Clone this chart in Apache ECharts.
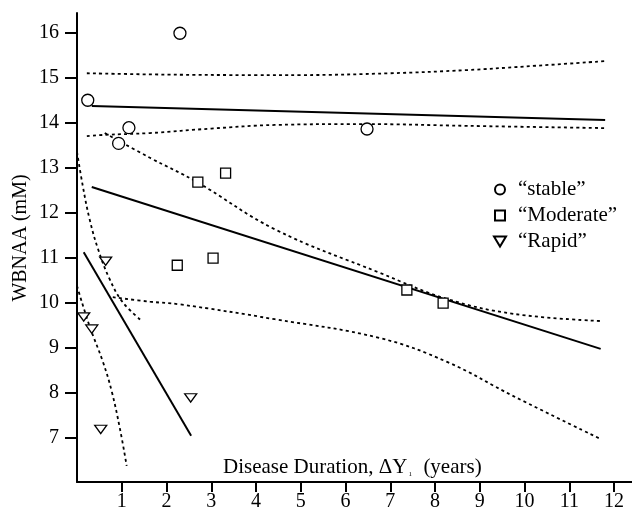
<!DOCTYPE html>
<html>
<head>
<meta charset="utf-8">
<script src="https://cdn.jsdelivr.net/npm/echarts@6/dist/echarts.min.js"></script>
<style>
html,body{margin:0;padding:0;background:#fff;}
#chart{width:632px;height:513px;}
</style>
</head>
<body>
<div id="chart"></div>
<script>
// ---- data ----
const seriesNames = ['\u201cstable\u201d', '\u201cModerate\u201d', '\u201cRapid\u201d'];

const stableX = [0.24, 0.93, 1.16, 2.30, 6.48];
const stableY = [14.51, 13.55, 13.90, 16.00, 13.87];
const moderateX = [2.24, 2.70, 3.04, 3.32, 7.37, 8.18];
const moderateY = [10.84, 12.69, 11.00, 12.89, 10.29, 10.00];
const rapidX = [0.15, 0.33, 0.53, 0.64, 2.54];
const rapidY = [9.69, 9.42, 7.19, 10.93, 7.89];

const stableFitX = [0.33, 11.80];
const stableFitY = [14.38, 14.07];
const stableUpperX = [0.22, 2.0, 4.0, 5.0, 7.0, 8.7, 10.0, 11.8];
const stableUpperY = [15.11, 15.08, 15.07, 15.07, 15.11, 15.18, 15.26, 15.38];
const stableLowerX = [0.22, 0.62, 1.63, 3.0, 4.42, 6.4, 8.72, 11.8];
const stableLowerY = [13.71, 13.74, 13.78, 13.88, 13.96, 13.98, 13.94, 13.89];

const moderateFitX = [0.33, 11.70];
const moderateFitY = [12.58, 8.98];
const moderateUpperX = [0.62, 1.63, 2.68, 4.42, 6.77, 8.27, 9.75, 11.69];
const moderateUpperY = [13.78, 13.23, 12.69, 11.64, 10.67, 10.09, 9.76, 9.60];
const moderateLowerX = [0.80, 1.63, 2.30, 4.42, 6.77, 8.27, 9.75, 11.69];
const moderateLowerY = [10.13, 10.03, 9.97, 9.64, 9.22, 8.69, 7.93, 6.98];

const rapidFitX = [0.15, 2.55];
const rapidFitY = [11.13, 7.05];
const rapidUpperX = [0.0, 0.13, 0.28, 0.47, 0.73, 1.02, 1.45];
const rapidUpperY = [13.36, 12.60, 11.87, 11.20, 10.53, 10.02, 9.60];
const rapidLowerX = [0.0, 0.28, 0.58, 0.78, 0.96, 1.11];
const rapidLowerY = [10.38, 9.49, 8.69, 8.02, 7.20, 6.38];

const xTicks = [1, 2, 3, 4, 5, 6, 7, 8, 9, 10, 11, 12];
const yTicks = [7, 8, 9, 10, 11, 12, 13, 14, 15, 16];

const xTitle = 'Disease Duration, \u0394Y';
const xTitleSub = '1';
const xTitleEnd = '  (years)';
const yTitle = 'WBNAA (mM)';

// ---- build ----
const zip = (xs, ys) => xs.map((x, i) => [x, ys[i]]);
const FONT = '"Liberation Serif", "Times New Roman", serif';

function fitLine(xs, ys, dashed) {
  return {
    type: 'line', data: zip(xs, ys), showSymbol: false, symbol: 'none',
    smooth: dashed ? 0.4 : false, silent: true, z: 1,
    lineStyle: dashed
      ? { color: '#000', width: 1.8, type: [3, 3.2] }
      : { color: '#000', width: 2 }
  };
}
function scatter(name, xs, ys, symbol, size) {
  return {
    type: 'scatter', name: name, data: zip(xs, ys), symbol: symbol,
    symbolSize: size, symbolKeepAspect: true, z: 3,
    itemStyle: { color: '#fff', borderColor: '#000', borderWidth: 1.3, opacity: 1 }
  };
}
const triPath = 'path://M0,0 L12,0 L6,10 Z';
const sqPath = 'path://M0,0 L10,0 L10,10 L0,10 Z';

const chart = echarts.init(document.getElementById('chart'), null, { renderer: 'canvas' });
chart.setOption({
  animation: false,
  backgroundColor: '#fff',
  textStyle: { fontFamily: FONT, color: '#000' },
  grid: { left: 77, top: 13, right: 0, bottom: 31, containLabel: false, outerBoundsMode: 'none' },
  xAxis: {
    type: 'value', min: 0, max: 12.4,
    axisLine: { show: true, onZero: false, lineStyle: { color: '#000', width: 2 } },
    axisTick: { show: true, length: 10, lineStyle: { color: '#000', width: 2 }, customValues: xTicks },
    axisLabel: { color: '#000', fontFamily: FONT, fontSize: 20, margin: 10, customValues: xTicks },
    splitLine: { show: false }
  },
  yAxis: {
    type: 'value', min: 6.02, max: 16.45,
    axisLine: { show: true, onZero: false, lineStyle: { color: '#000', width: 2 } },
    axisTick: { show: true, length: 12, lineStyle: { color: '#000', width: 2 }, customValues: yTicks },
    axisLabel: { color: '#000', fontFamily: FONT, fontSize: 20, margin: 18, customValues: yTicks },
    splitLine: { show: false }
  },
  legend: {
    data: seriesNames,
    orient: 'vertical', left: 488, top: 174,
    itemWidth: 26, itemHeight: 10, itemGap: 5, symbolKeepAspect: true,
    textStyle: { fontFamily: FONT, fontSize: 21, color: '#000', lineHeight: 20.5 },
    selectedMode: false
  },
  graphic: [
    {
      type: 'text', left: 223, top: 457, silent: true,
      style: {
        text: xTitle + '{s|' + xTitleSub + '}' + xTitleEnd,
        fontFamily: FONT, fontSize: 21, fill: '#000',
        rich: { s: { fontSize: 7, fontFamily: FONT, verticalAlign: 'bottom', padding: [0, 1, 0, 1] } }
      }
    },
    {
      type: 'text', x: 21, y: 238, rotation: Math.PI / 2, silent: true,
      style: {
        text: yTitle, fontFamily: FONT, fontSize: 20, fill: '#000',
        align: 'center', verticalAlign: 'middle'
      }
    }
  ],
  series: [
    fitLine(stableFitX, stableFitY, false),
    fitLine(stableUpperX, stableUpperY, true),
    fitLine(stableLowerX, stableLowerY, true),
    fitLine(moderateFitX, moderateFitY, false),
    fitLine(moderateUpperX, moderateUpperY, true),
    fitLine(moderateLowerX, moderateLowerY, true),
    fitLine(rapidFitX, rapidFitY, false),
    fitLine(rapidUpperX, rapidUpperY, true),
    fitLine(rapidLowerX, rapidLowerY, true),
    scatter(seriesNames[0], stableX, stableY, 'circle', 12),
    scatter(seriesNames[1], moderateX, moderateY, sqPath, 10),
    scatter(seriesNames[2], rapidX, rapidY, triPath, [12, 10])
  ]
});
</script>
</body>
</html>
